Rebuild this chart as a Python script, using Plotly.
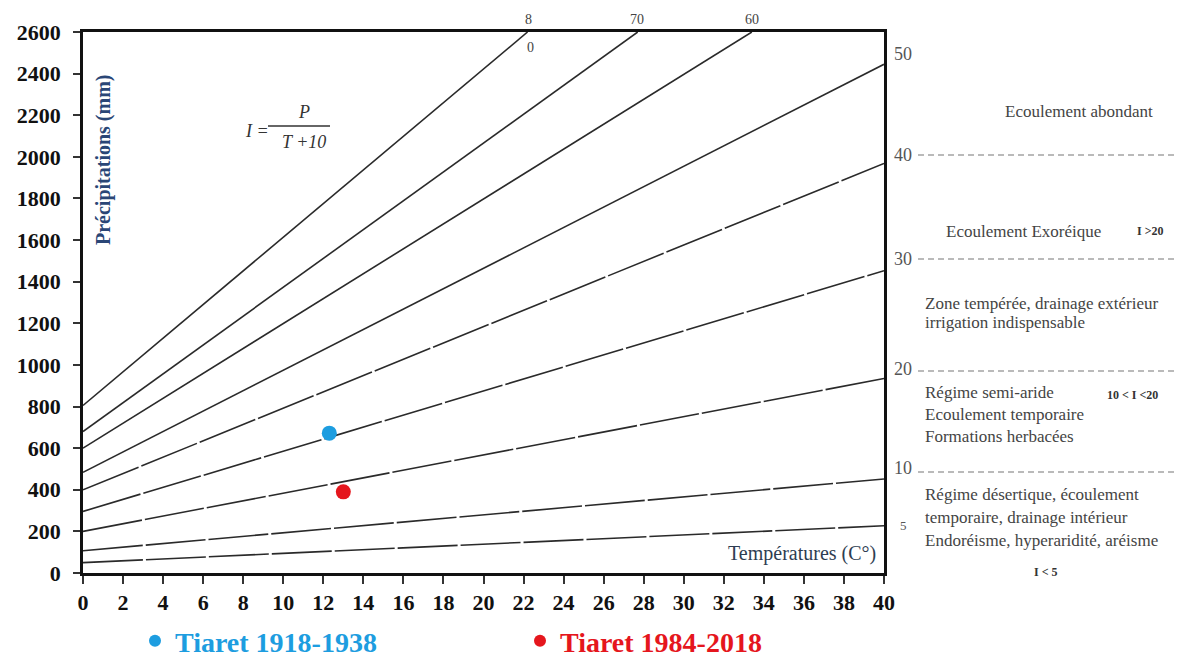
import plotly.graph_objects as go

# ---------------- data ----------------
x_ticks = list(range(0, 41, 2))
y_ticks = list(range(0, 2601, 200))

index_values = [5, 10, 20, 30, 40, 50, 60, 70, 80]
line_start_t = [0, 0, 0, 0, 0, 0, 0, 0, 0]
line_start_p = [50, 107, 200, 296, 400, 484, 600, 680, 805]
line_end_t = [40, 40, 40, 40, 40, 40, 33.4, 27.7, 22.2]
line_end_p = [227, 452, 935, 1453, 1968, 2445, 2600, 2600, 2600]

station_names = ["Tiaret 1918-1938", "Tiaret 1984-2018"]
station_t = [12.3, 13.0]
station_p = [672, 390]
station_colors = ["#1d9de0", "#e5161d"]

right_labels = ["50", "40", "30", "20", "10", "5"]

# ---------------- layout helpers ----------------
W, H = 1177, 661
L, R, T, B = 83, 293, 32, 88
PW, PH = W - L - R, H - T - B


def px(x):
    return (x - L) / PW


def py(y):
    return (H - B - y) / PH


SERIF = "Liberation Serif"
fig = go.Figure()

for i, idx in enumerate(index_values):
    dash = "solid" if idx >= 50 else "60px,3px"
    fig.add_trace(go.Scatter(
        x=[line_start_t[i], line_end_t[i]],
        y=[line_start_p[i], line_end_p[i]],
        mode="lines",
        line=dict(color="#2a2a2a", width=1.6, dash=dash),
        showlegend=False, hoverinfo="skip",
        name=f"I = {idx}",
    ))

for name, t, p, c in zip(station_names, station_t, station_p, station_colors):
    fig.add_trace(go.Scatter(
        x=[t], y=[p], mode="markers",
        marker=dict(color=c, size=15, line=dict(width=0)),
        name=f"<span style='color:{c}'>{name}</span>",
        showlegend=True,
    ))

anns = []


def ann(text, x, y, size=15, color="#444", xanchor="center", yanchor="middle",
        family=SERIF, angle=0, bold=False, italic=False):
    t = text
    if bold:
        t = f"<b>{t}</b>"
    if italic:
        t = f"<i>{t}</i>"
    anns.append(dict(text=t, x=px(x), y=py(y), xref="paper", yref="paper",
                     xanchor=xanchor, yanchor=yanchor, showarrow=False,
                     textangle=angle,
                     font=dict(family=family, size=size, color=color)))


# axis titles inside plot
ann("Précipitations (mm)", 103, 160, size=20, color="#2a4676", angle=-90, bold=True)
ann("Températures (C°)", 878, 553, size=20, color="#2e3d52", xanchor="right")

# formula
ann("I =", 257, 131, size=18, color="#333", italic=True)
ann("P", 304, 112, size=18, color="#333", italic=True)
ann("T +10", 304, 142, size=18, color="#333", italic=True)

# top labels of iso-index lines
ann("8", 528, 20, size=14)
ann("0", 530, 47, size=14)
ann("70", 637, 20, size=14)
ann("60", 752, 20, size=14)

# right side index labels
right_label_y = [54, 155, 259, 369, 468, 525]
for lab, yy in zip(right_labels, right_label_y):
    ann(lab, 903, yy, size=18 if lab != "5" else 13, color="#555")

# zone texts
ann("Ecoulement abondant", 1079, 112, size=17)
ann("Ecoulement Exoréique", 1023, 231, size=17)
ann("I >20", 1150, 231, size=12, bold=True, color="#333")
ann("Zone tempérée, drainage extérieur", 923, 303, size=17, xanchor="left")
ann("irrigation indispensable", 923, 323, size=17, xanchor="left")
ann("Régime semi-aride", 923, 392, size=17, xanchor="left")
ann("10 < I <20", 1132, 395, size=12, bold=True, color="#333")
ann("Ecoulement temporaire", 923, 414, size=17, xanchor="left")
ann("Formations herbacées", 923, 437, size=17, xanchor="left")
ann("Régime désertique, écoulement", 923, 494, size=17, xanchor="left")
ann("temporaire, drainage intérieur", 923, 517, size=17, xanchor="left")
ann("Endoréisme, hyperaridité, aréisme", 923, 540, size=17, xanchor="left")
ann("I < 5", 1046, 572, size=12, bold=True, color="#333")

shapes = []
# fraction bar
shapes.append(dict(type="line", xref="paper", yref="paper",
                   x0=px(268), x1=px(330), y0=py(126), y1=py(126),
                   line=dict(color="#333", width=1.3)))
# dashed zone boundaries on the right
boundary_y = [155, 259, 371, 472]
for yy in boundary_y:
    shapes.append(dict(type="line", xref="paper", yref="paper",
                       x0=px(918), x1=px(1177), y0=py(yy), y1=py(yy),
                       line=dict(color="#777", width=1.2, dash="6px,4px")))

fig.update_layout(
    width=W, height=H,
    margin=dict(l=L, r=R, t=T, b=B, autoexpand=False),
    paper_bgcolor="white", plot_bgcolor="white",
    annotations=anns, shapes=shapes,
    legend=dict(orientation="h", x=px(135), xanchor="left",
                y=py(641), yanchor="middle",
                font=dict(family=SERIF, size=28, weight="bold"),
                entrywidth=340, entrywidthmode="pixels",
                itemsizing="constant", bgcolor="rgba(0,0,0,0)"),
    xaxis=dict(range=[0, 40], tickmode="array", tickvals=x_ticks,
               ticktext=[str(v) for v in x_ticks],
               showgrid=False, zeroline=False,
               showline=True, linecolor="#111", linewidth=2.5, mirror=True,
               ticks="outside", ticklen=8, tickwidth=1.5, tickcolor="#333",
               tickfont=dict(family=SERIF, size=22, color="#111", weight="bold")),
    yaxis=dict(range=[0, 2600], tickmode="array", tickvals=y_ticks,
               ticktext=[str(v) for v in y_ticks],
               showgrid=False, zeroline=False,
               showline=True, linecolor="#111", linewidth=2.5, mirror=True,
               ticks="outside", ticklen=7, tickwidth=1.5, tickcolor="#333",
               ticklabelstandoff=8,
               tickfont=dict(family=SERIF, size=22, color="#111", weight="bold")),
)

fig.write_html("out.html")
